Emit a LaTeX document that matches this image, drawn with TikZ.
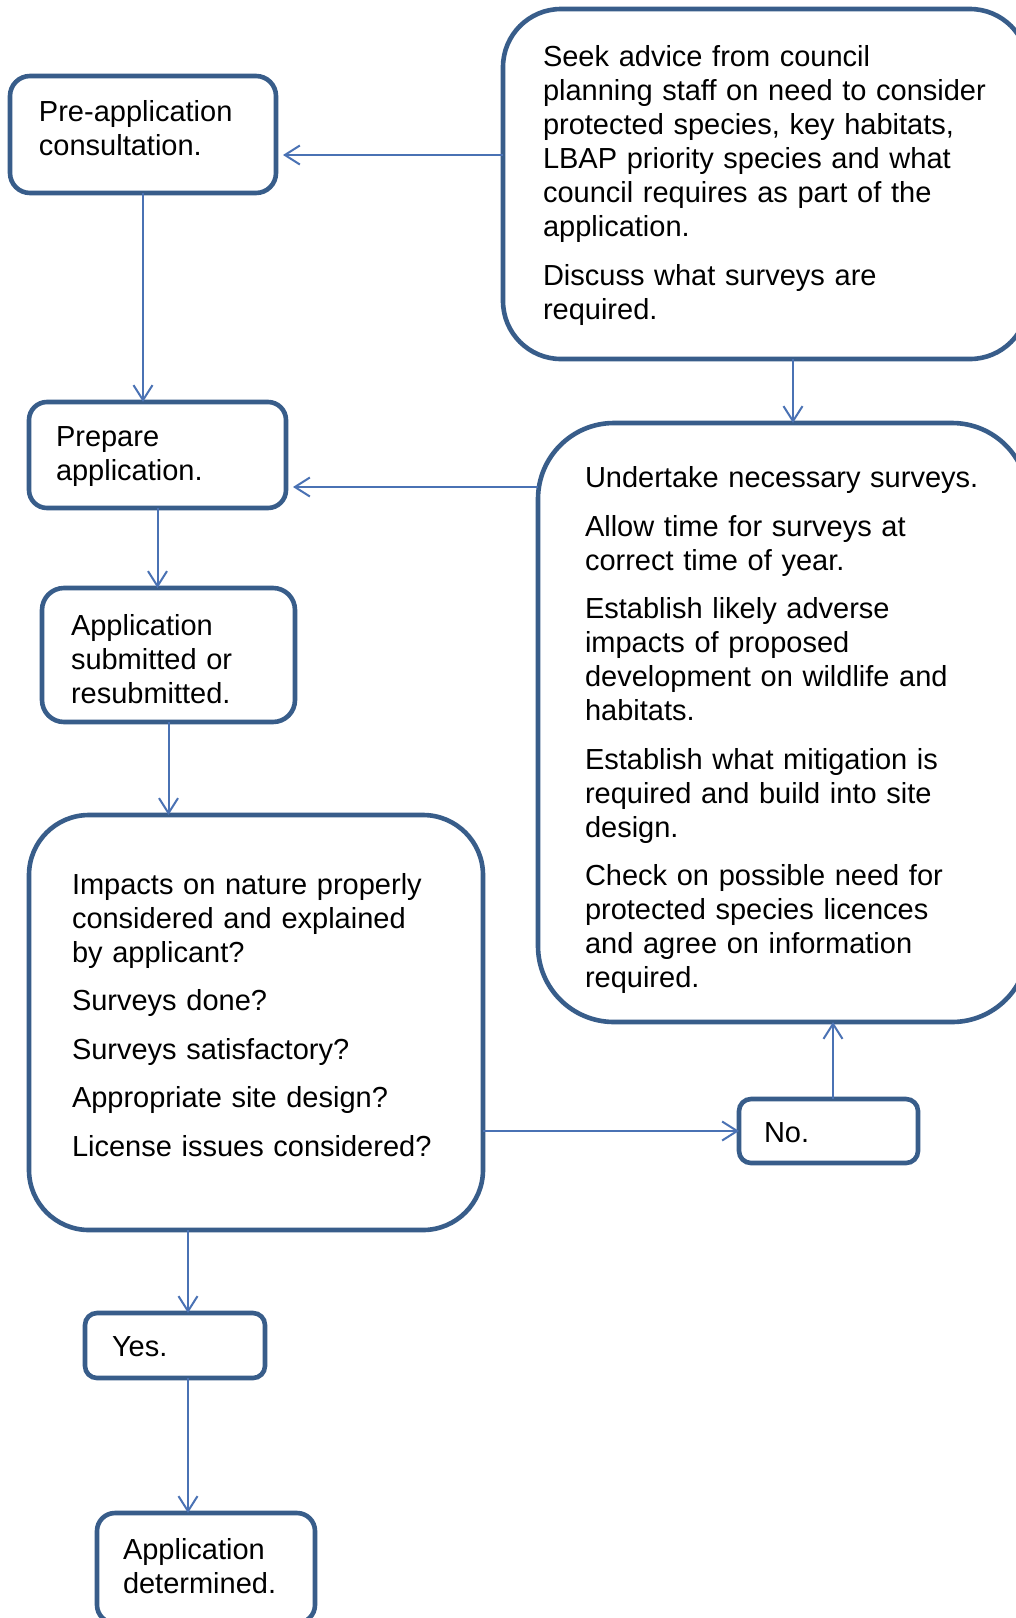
\documentclass[tikz,border=0pt]{standalone}
\usepackage{fontspec}
\setmainfont{Liberation Sans}
\usetikzlibrary{arrows.meta}
\definecolor{boxc}{RGB}{56,93,138}
\definecolor{linec}{RGB}{74,114,180}
\newcommand\boxtext[2][0pt]{\raisebox{-#1}[\height][\depth]{\begin{tabular}{@{}l@{}}#2\end{tabular}}}
\begin{document}
\begin{tikzpicture}[x=0.5pt,y=-0.5pt,
  box/.style={draw=boxc, line width=2.3pt, fill=white, anchor=north west,
    inner ysep=0pt, outer sep=0pt, align=left,
    font=\fontsize{14.5pt}{17pt}\selectfont},
  conn/.style={draw=linec, line width=1pt, -{Straight Barb[length=7.5pt,width=9.5pt]}}]
\useasboundingbox (0,0) rectangle (1016,1618);
\clip (0,0) rectangle (1016,1618);
\fill[white] (0,0) rectangle (1016,1618);

\node[box, rounded corners=29pt, text width=222.5pt, inner xsep=20pt, minimum height=175pt]
  (seek) at (503,9) {\boxtext[1pt]{Seek advice from council\\planning staff on need to consider\\protected species, key habitats,\\LBAP priority species and what\\council requires as part of the\\application.\\[7.25pt]Discuss what surveys are\\required.}};
\node[box, rounded corners=10pt, text width=104pt, inner xsep=14.5pt, minimum height=58.5pt]
  (preapp) at (10,76) {\boxtext[-1.5pt]{Pre-application\\consultation.}};
\node[box, rounded corners=9pt, text width=101.5pt, inner xsep=13.5pt, minimum height=53pt]
  (prepare) at (29,402) {\boxtext[1pt]{Prepare\\application.}};
\node[box, rounded corners=11pt, text width=97.5pt, inner xsep=14.5pt, minimum height=67pt]
  (appsub) at (42,588) {\boxtext[3.6pt]{Application\\submitted or\\resubmitted.}};
\node[box, rounded corners=38pt, text width=198pt, inner xsep=23.5pt, minimum height=299.5pt]
  (surveys) at (538,423) {\boxtext[4.1pt]{Undertake necessary surveys.\\[7.25pt]Allow time for surveys at\\correct time of year.\\[7.25pt]Establish likely adverse\\impacts of proposed\\development on wildlife and\\habitats.\\[7.25pt]Establish what mitigation is\\required and build into site\\design.\\[7.25pt]Check on possible need for\\protected species licences\\and agree on information\\required.}};
\node[box, rounded corners=30pt, text width=184pt, inner xsep=21.5pt, minimum height=207.5pt]
  (question) at (29,815) {\boxtext[-2pt]{Impacts on nature properly\\considered and explained\\by applicant?\\[7.25pt]Surveys done?\\[7.25pt]Surveys satisfactory?\\[7.25pt]Appropriate site design?\\[7.25pt]License issues considered?}};
\node[box, rounded corners=6pt, text width=64.5pt, inner xsep=12.5pt, minimum height=32pt]
  (no) at (739,1099) {\boxtext[2.5pt]{No.}};
\node[box, rounded corners=6pt, text width=63pt, inner xsep=13.5pt, minimum height=32.5pt]
  (yes) at (85,1313) {\boxtext[2pt]{Yes.}};
\node[box, rounded corners=9pt, text width=83pt, inner xsep=13pt, minimum height=55pt]
  (appdet) at (97,1513) {\boxtext[1pt]{Application\\determined.}};

\draw[conn, shorten >=3.5pt] (seek.west |- 0,155) -- (preapp.east |- 0,155);
\draw[conn] (preapp.south) -- (preapp.south |- prepare.north);
\draw[conn, shorten >=3.5pt] (surveys.west |- 0,487) -- (prepare.east |- 0,487);
\draw[conn] (seek.south -| 793,0) -- (surveys.north -| 793,0);
\draw[conn] (prepare.south) -- (prepare.south |- appsub.north);
\draw[conn] (appsub.south) -- (appsub.south |- question.north);
\draw[conn] (question.east |- no.west) -- (no.west);
\draw[conn] (no.north -| 833,0) -- (surveys.south -| 833,0);
\draw[conn] (question.south -| 188,0) -- (yes.north -| 188,0);
\draw[conn] (yes.south -| 188,0) -- (appdet.north -| 188,0);
\end{tikzpicture}
\end{document}
